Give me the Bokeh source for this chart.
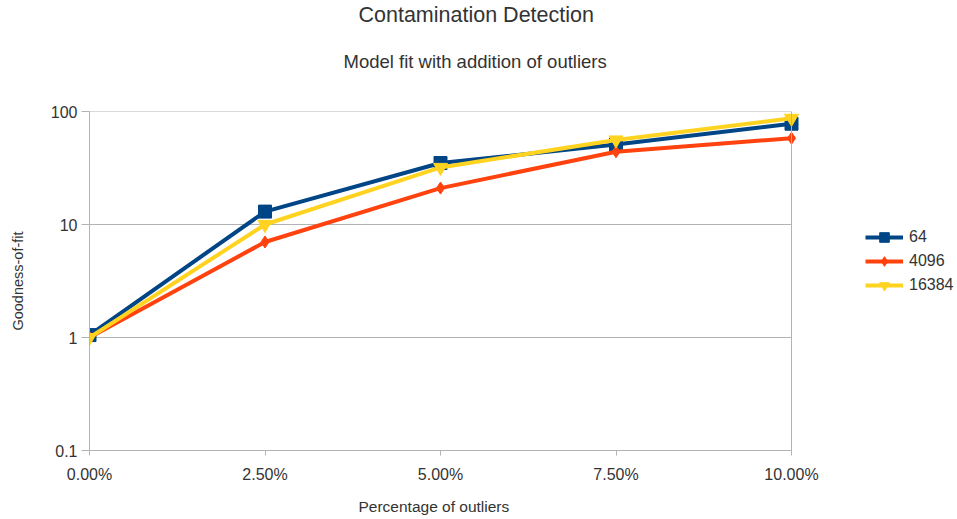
from bokeh.plotting import figure
from bokeh.models import Range1d, FixedTicker, Legend, LegendItem, Title, Span
from bokeh.embed import file_html
from bokeh.resources import INLINE

# ---- data ----
pct = [0, 2.5, 5, 7.5, 10]
x_labels = ["0.00%", "2.50%", "5.00%", "7.50%", "10.00%"]
y_ticks = [0.1, 1, 10, 100]
y_labels = ["0.1", "1", "10", "100"]
series_names = ["64", "4096", "16384"]
s64 = [1.05, 13, 35, 51, 78]
s4096 = [1.0, 7, 21, 44, 58]
s16384 = [1.0, 10, 32, 56, 87]

FONT = "Liberation Sans"
TXT = "#333333"
GRID = "#b3b3b3"

# plot area spans 0..10 on x; the frame extends further right to host the legend
X_END = 10 * 868 / 702

p = figure(width=957, height=519, y_axis_type="log",
           x_range=Range1d(0, X_END), y_range=Range1d(0.1, 100),
           output_backend="svg", toolbar_location=None,
           min_border_left=89, min_border_right=0,
           min_border_top=111, min_border_bottom=69)
p.title_location = None
p.outline_line_color = None
p.background_fill_color = "white"
p.border_fill_color = "white"

# titles (stacked outward from the plot area)
p.add_layout(Title(text=" ", text_font=FONT, text_font_size="1px", standoff=14), "above")
sub = Title(text="Model fit with addition of outliers", align="left", offset=254,
            text_font=FONT, text_font_size="18.5px", text_font_style="normal",
            text_color=TXT, standoff=45)
p.add_layout(sub, "above")
main = Title(text="Contamination Detection", align="left", offset=269,
             text_font=FONT, text_font_size="21.5px", text_font_style="normal",
             text_color=TXT, standoff=0)
p.add_layout(main, "above")

# axes
xa = p.xaxis[0]
xa.ticker = FixedTicker(ticks=pct)
xa.bounds = (pct[0], pct[-1])
xa.major_label_overrides = {v: l for v, l in zip(pct, x_labels)}
xa.major_tick_out = 5
xa.major_tick_in = 0
xa.minor_tick_line_color = None
xa.major_label_standoff = 10

# x-axis title, left-aligned under the plot area (the frame is wider than the plot area)
p.add_layout(Title(text=" ", text_font=FONT, text_font_size="1px", standoff=6), "below")
xtitle = Title(text="Percentage of outliers", align="left", offset=269,
               text_font=FONT, text_font_size="15.5px", text_font_style="normal",
               text_color=TXT, standoff=2)
p.add_layout(xtitle, "below")

ya = p.yaxis[0]
ya.ticker = FixedTicker(ticks=y_ticks)
ya.major_label_overrides = {v: l for v, l in zip(y_ticks, y_labels)}
ya.axis_label = "Goodness-of-fit"
ya.major_tick_out = 8
ya.major_tick_in = 0
ya.minor_tick_line_color = None
ya.major_label_standoff = 4
ya.axis_label_standoff = 22
ya.axis_label_text_font = FONT
ya.axis_label_text_font_size = "14.5px"
ya.axis_label_text_font_style = "normal"
ya.axis_label_text_color = TXT

for ax in (xa, ya):
    ax.axis_line_color = GRID
    ax.major_tick_line_color = GRID
    ax.major_label_text_font = FONT
    ax.major_label_text_font_size = "16px"
    ax.major_label_text_color = TXT

# horizontal grid lines limited to the plot area (0..10 on x)
p.xgrid.visible = False
p.ygrid.visible = False
p.segment(x0=[pct[0]] * len(y_ticks), y0=y_ticks,
          x1=[pct[-1]] * len(y_ticks), y1=y_ticks,
          line_color=GRID, line_width=1)

# right border of the plot area
p.add_layout(Span(location=pct[-1], dimension="height", line_color=GRID, line_width=1))

colors = ["#004586", "#ff420e", "#ffd320"]
markers = ["square", "diamond", "inverted_triangle"]
sizes = [13, 12, 14]
items = []
for name, vals, c, mk, sz in zip(series_names, [s64, s4096, s16384], colors, markers, sizes):
    l = p.line(pct, vals, line_width=4, color=c)
    m = p.scatter(pct, vals, marker=mk, size=sz, color=c)
    items.append(LegendItem(label=name, renderers=[l, m]))

legend = Legend(items=items, location=(776, 153), glyph_width=38, glyph_height=24,
                label_height=24, spacing=0, padding=0, margin=0,
                border_line_color=None, background_fill_alpha=0,
                label_text_font=FONT, label_text_font_size="16px",
                label_text_color=TXT, label_standoff=6)
p.add_layout(legend, "center")

open("out.html", "w").write(file_html(p, INLINE))
